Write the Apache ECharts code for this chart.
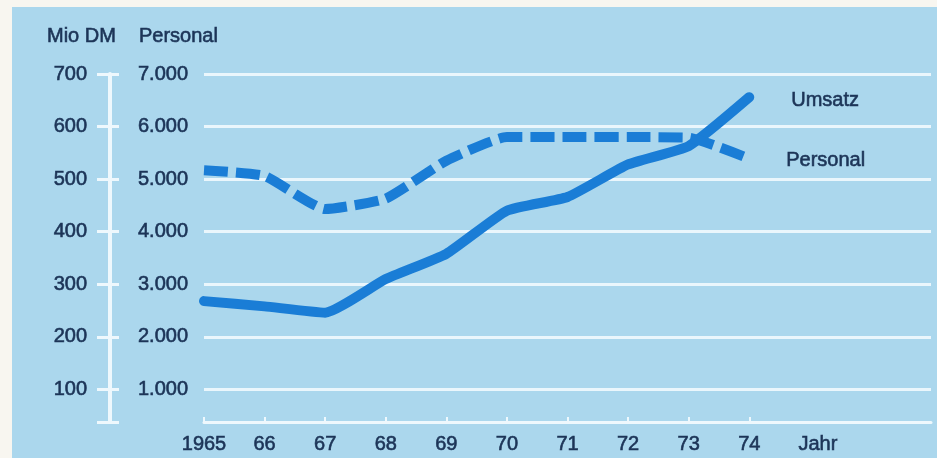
<!DOCTYPE html>
<html>
<head>
<meta charset="utf-8">
<script src="https://cdn.jsdelivr.net/npm/echarts@6/dist/echarts.min.js"></script>
<style>
  html, body { margin: 0; padding: 0; background: #f8f6f0; }
  #chart {
    width: 937px; height: 458px;
    background: #abd7ed;
    box-shadow: inset 12px 7px 0 0 #f8f6f0;
  }
</style>
</head>
<body>
<div id="chart"></div>
<script>
// Jahre und Beschriftungen der x-Achse
const years = [1965, 1966, 1967, 1968, 1969, 1970, 1971, 1972, 1973, 1974];
const yearLabels = ['1965', '66', '67', '68', '69', '70', '71', '72', '73', '74'];
const axisTitleX = 'Jahr';

// Umsatz in Mio DM
const umsatz = [268, 258, 246, 310, 358, 440, 466, 528, 563, 656];
// Personal (Beschäftigte)
const personal = [5170, 5060, 4430, 4630, 5350, 5800, 5800, 5800, 5790, 5390];

// Skalen der beiden linken Achsen
const mioTicks = [100, 200, 300, 400, 500, 600, 700];
const mioLabels = ['100', '200', '300', '400', '500', '600', '700'];
const personalTicks = [1000, 2000, 3000, 4000, 5000, 6000, 7000];
const personalLabels = ['1.000', '2.000', '3.000', '4.000', '5.000', '6.000', '7.000'];

// Personal-Niveau, auf dem die Jahresachse liegt
const baseLevel = 380;

const ink = '#1c3457';
const lineBlue = '#1a7dd6';
const white = '#eef8fd';
const font = 'Liberation Sans, Arial, Helvetica, sans-serif';

// gemeinsamer Textstil, leicht kräftiger gezeichnet
const txt = { color: ink, fontSize: 20, fontFamily: font, fontWeight: 'normal', textBorderColor: ink, textBorderWidth: 0.6 };

// Layout
const plotLeft = 204, plotRight = 6, plotTop = 74, plotBottom = 16;
const plotH = 458 - plotTop - plotBottom;
const axisBottom = plotBottom + Math.round(baseLevel / 7000 * plotH);
const scaleAxisX = 110;

function pick(ticks, labels) {
  return v => { const i = ticks.indexOf(v); return i >= 0 ? labels[i] : ''; };
}

const chart = echarts.init(document.getElementById('chart'), null, { renderer: 'canvas' });

chart.setOption({
  animation: false,
  textStyle: { fontFamily: font },
  title: [
    { text: 'Mio DM', left: 42, top: 21, textStyle: Object.assign({ lineHeight: 20 }, txt) },
    { text: 'Personal', left: 134, top: 21, textStyle: Object.assign({ lineHeight: 20 }, txt) }
  ],
  grid: [
    { left: plotLeft, right: plotRight, top: plotTop, bottom: plotBottom },
    { left: plotLeft, right: plotRight, top: plotTop, bottom: axisBottom }
  ],
  xAxis: [
    { type: 'value', gridIndex: 0, min: 1965, max: 1977, show: false },
    {
      type: 'value', gridIndex: 1, min: 1965, max: 1977,
      splitLine: { show: false },
      axisLine: { show: true, lineStyle: { color: white, width: 3 } },
      axisTick: { show: true, inside: true, length: 5, customValues: years, lineStyle: { color: white, width: 2 } },
      axisLabel: Object.assign({
        customValues: years.concat([1975]),
        margin: 12,
        formatter: v => v === 1975 ? '{j|' + axisTitleX + '}' : pick(years, yearLabels)(v),
        rich: { j: Object.assign({ padding: [0, 0, 0, 16] }, txt) }
      }, txt)
    }
  ],
  yAxis: [
    {
      // Personal-Skala mit Gitterlinien
      type: 'value', gridIndex: 0, min: 0, max: 7000, interval: 1000, position: 'left',
      axisLine: { show: false }, axisTick: { show: false },
      axisLabel: Object.assign({ margin: 16, formatter: pick(personalTicks, personalLabels) }, txt),
      splitLine: { show: true, showMinLine: false, lineStyle: { color: '#eaf6fc', width: 3 } }
    },
    {
      // Mio-DM-Skala
      type: 'value', gridIndex: 0, min: 0, max: 700, interval: 100, position: 'left',
      offset: plotLeft - scaleAxisX,
      axisLine: { show: false }, axisTick: { show: false }, splitLine: { show: false },
      axisLabel: Object.assign({ margin: 23, formatter: pick(mioTicks, mioLabels) }, txt)
    },
    {
      // weiße Skalenlinie zwischen den Beschriftungen
      type: 'value', gridIndex: 1, min: baseLevel, max: 7000, position: 'left',
      offset: plotLeft - scaleAxisX,
      axisLine: { show: true, lineStyle: { color: white, width: 4 } },
      axisTick: { show: true, length: 13, customValues: [baseLevel].concat(personalTicks), lineStyle: { color: white, width: 3 } },
      axisLabel: { show: false }, splitLine: { show: false }
    },
    {
      type: 'value', gridIndex: 1, min: baseLevel, max: 7000, position: 'left',
      offset: plotLeft - scaleAxisX,
      axisLine: { show: false },
      axisTick: { show: true, inside: true, length: 9, customValues: [baseLevel].concat(personalTicks), lineStyle: { color: white, width: 3 } },
      axisLabel: { show: false }, splitLine: { show: false }
    }
  ],
  series: [
    {
      name: 'Umsatz', type: 'line', xAxisIndex: 0, yAxisIndex: 1,
      data: years.map((y, i) => [y, umsatz[i]]),
      showSymbol: false, smooth: 0.15,
      lineStyle: { color: lineBlue, width: 10, cap: 'round', join: 'round' },
      endLabel: Object.assign({ show: true, formatter: 'Umsatz', offset: [34, 3] }, txt)
    },
    {
      name: 'Personal', type: 'line', xAxisIndex: 0, yAxisIndex: 0,
      data: years.map((y, i) => [y, personal[i]]),
      showSymbol: false, smooth: 0.15,
      lineStyle: { color: lineBlue, width: 10, type: [24, 8], cap: 'butt', join: 'round' },
      endLabel: Object.assign({ show: true, formatter: 'Personal', offset: [29, 2] }, txt)
    }
  ]
});
</script>
</body>
</html>
